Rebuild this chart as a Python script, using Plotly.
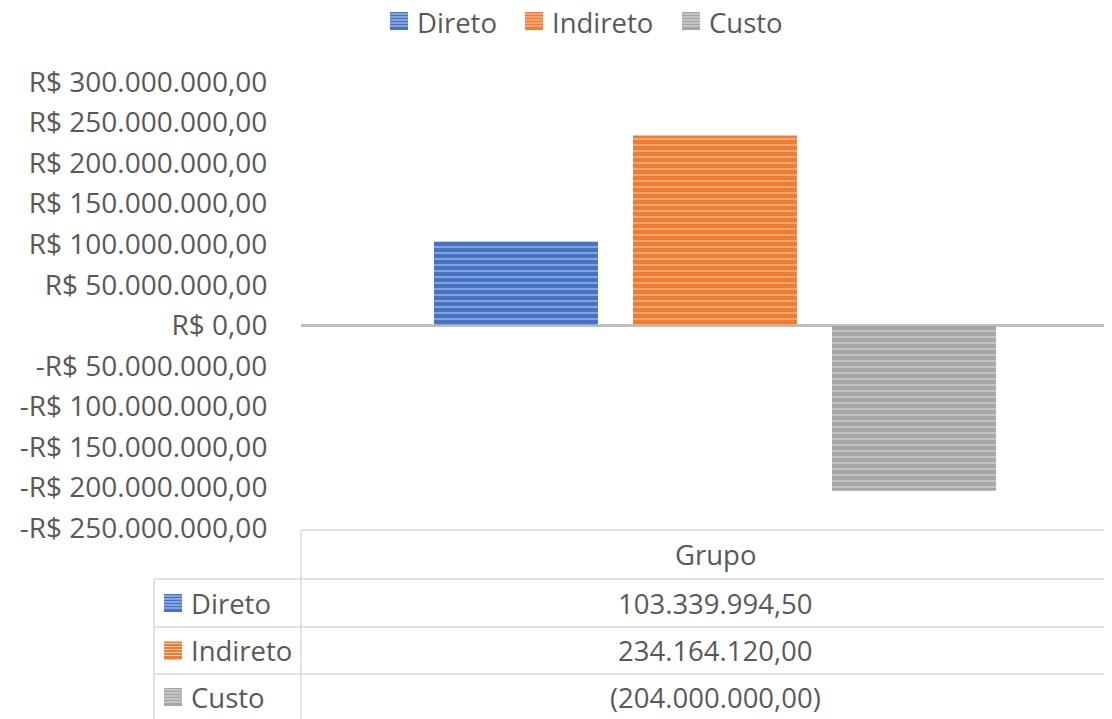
import plotly.graph_objects as go

categories = ["Grupo"]
series_names = ["Direto", "Indireto", "Custo"]
series_values = [103339994.50, 234164120.00, -204000000.00]
series_colors = ["#4472C4", "#ED7D31", "#A5A5A5"]
stripe_colors = ["#c5d3ee", "#f8cdb0", "#e2e2e2"]
tick_values = [300e6, 250e6, 200e6, 150e6, 100e6, 50e6, 0, -50e6, -100e6, -150e6, -200e6, -250e6]

OFF = 8  # page body margin
W, H = 1112 - OFF, 719 - OFF
L, T = 301 - OFF, 82 - OFF
R = 0
B = H - (528 - OFF)
PW, PH = W - L - R, H - T - B
FONT = "Open Sans"
TXT = "#595959"
FS = 27.5


def br(v, dec=2):
    s = f"{abs(v):,.{dec}f}"
    return s.replace(",", "X").replace(".", ",").replace("X", ".")


def tick_label(v):
    return ("-" if v < 0 else "") + "R$ " + br(v)


def table_label(v):
    return f"({br(v)})" if v < 0 else br(v)


def px_x(x):
    return (x - OFF - L) / PW


def px_y(y):
    return (H - B - (y - OFF)) / PH


fig = go.Figure()
for name, val, col, sc in zip(series_names, series_values, series_colors, stripe_colors):
    fig.add_trace(go.Bar(
        x=categories, y=[val], name=name,
        marker=dict(color=col, line=dict(width=0),
                    pattern=dict(shape="-", fgcolor=sc, bgcolor=col, size=6, solidity=0.35)),
        showlegend=False,
    ))

shapes = []
annotations = []


def key(x0, yc, col, sc):
    y0, y1 = yc - 9, yc + 9
    shapes.append(dict(type="rect", xref="paper", yref="paper", x0=px_x(x0), x1=px_x(x0 + 18),
                       y0=px_y(y1), y1=px_y(y0), fillcolor=col, line=dict(width=0)))
    yy = y0 + 2
    while yy < y1 - 1:
        shapes.append(dict(type="line", xref="paper", yref="paper", x0=px_x(x0), x1=px_x(x0 + 18),
                           y0=px_y(yy), y1=px_y(yy), line=dict(color=sc, width=1)))
        yy += 3


legend_key_x = [390, 525, 682]
for name, col, sc, kx in zip(series_names, series_colors, stripe_colors, legend_key_x):
    key(kx, 21, col, sc)
    annotations.append(dict(xref="paper", yref="paper", x=px_x(kx + 25), y=px_y(22), text=name,
                            showarrow=False, xanchor="left", yanchor="middle",
                            font=dict(family=FONT, size=FS, color=TXT)))

line_col = "#d9d9d9"
lw = 1.5


def hline(y, x0, x1):
    shapes.append(dict(type="line", xref="paper", yref="paper", x0=px_x(x0), x1=px_x(x1),
                       y0=px_y(y), y1=px_y(y), line=dict(color=line_col, width=lw)))


def vline(x, y0, y1):
    shapes.append(dict(type="line", xref="paper", yref="paper", x0=px_x(x), x1=px_x(x),
                       y0=px_y(y0), y1=px_y(y1), line=dict(color=line_col, width=lw)))


hline(530, 301, 1112)
for yy in [579, 627, 674]:
    hline(yy, 154, 1112)
vline(301, 530, 719)
vline(154, 579, 719)

center_x = 715
annotations.append(dict(xref="paper", yref="paper", x=px_x(center_x), y=px_y(554), text=categories[0],
                        showarrow=False, xanchor="center", yanchor="middle",
                        font=dict(family=FONT, size=FS, color=TXT)))
row_centers = [603, 650.5, 697]
for name, val, col, sc, rc in zip(series_names, series_values, series_colors, stripe_colors, row_centers):
    key(164, rc, col, sc)
    annotations.append(dict(xref="paper", yref="paper", x=px_x(189), y=px_y(rc), text=name,
                            showarrow=False, xanchor="left", yanchor="middle",
                            font=dict(family=FONT, size=FS, color=TXT)))
    annotations.append(dict(xref="paper", yref="paper", x=px_x(center_x), y=px_y(rc), text=table_label(val),
                            showarrow=False, xanchor="center", yanchor="middle",
                            font=dict(family=FONT, size=FS, color=TXT)))

fig.update_layout(
    width=W, height=H,
    margin=dict(l=L, r=R, t=T, b=B, pad=0),
    paper_bgcolor="white", plot_bgcolor="white",
    barmode="group", bargap=0.279, bargroupgap=0.176,
    showlegend=False,
    shapes=shapes, annotations=annotations,
    font=dict(family=FONT, size=FS, color=TXT),
    xaxis=dict(type="category", range=[-0.5, 0.4795], showticklabels=False, showgrid=False,
               showline=False, zeroline=False, ticks=""),
    yaxis=dict(range=[-250e6, 300e6], tickvals=tick_values,
               ticktext=[tick_label(v) for v in tick_values],
               showgrid=False, showline=False, zeroline=True, zerolinecolor="#bfbfbf",
               zerolinewidth=2.5, ticks="outside", ticklen=27, tickcolor="rgba(0,0,0,0)",
               tickfont=dict(family=FONT, size=28, color=TXT)),
)

fig.write_html("out.html")
